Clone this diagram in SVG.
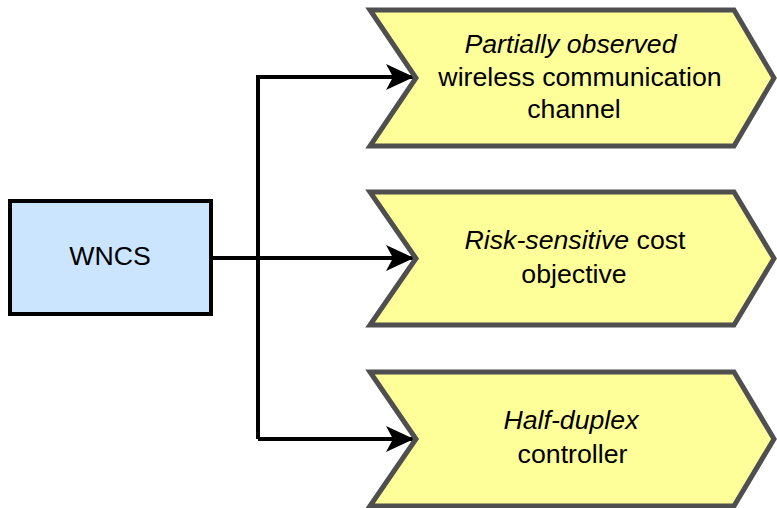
<svg xmlns="http://www.w3.org/2000/svg" width="777" height="508" viewBox="0 0 777 508">
<style>
  .step { fill: #ffff99; stroke: #4f4f4f; stroke-width: 5; stroke-linejoin: miter; }
  .box { fill: #cce5ff; stroke: #000; stroke-width: 4; }
  .t { font-family: "Liberation Sans", Arial, sans-serif; font-size: 26.7px; fill: #000; text-anchor: middle; }
  .i { font-style: italic; }
  .edge { fill: none; stroke: #000; stroke-width: 4; }
</style>
<defs>
  <marker id="arr" markerUnits="userSpaceOnUse" markerWidth="30" markerHeight="30" viewBox="0 0 30 30" refX="28" refY="15" orient="auto">
    <path d="M28,15 L0,2 L7,15 L0,28 Z" fill="#000"/>
  </marker>
</defs>
<rect width="777" height="508" fill="#fff"/>
<g id="connectors">
  <path class="edge" d="M212,258 H258"/>
  <path class="edge" d="M258,439 V77 H414" marker-end="url(#arr)"/>
  <path class="edge" d="M258,258 H414" marker-end="url(#arr)"/>
  <path class="edge" d="M258,439 H414" marker-end="url(#arr)"/>
</g>
<g id="wncs">
  <rect class="box" x="10" y="201" width="201" height="113"/>
  <text class="t" x="110" y="265">WNCS</text>
</g>
<g id="channel">
  <polygon class="step" points="370,10 734,10 774,78 734,146 370,146 416,78"/>
  <text class="t i" x="570.5" y="53">Partially observed</text>
  <text class="t" x="580" y="85.5">wireless communication</text>
  <text class="t" x="574" y="118">channel</text>
</g>
<g id="cost">
  <polygon class="step" points="370,192 734,192 774,258.5 734,325 370,325 416,258.5"/>
  <text class="t" x="575" y="249"><tspan class="i">Risk-sensitive</tspan> cost</text>
  <text class="t" x="574" y="283">objective</text>
</g>
<g id="controller">
  <polygon class="step" points="370,372 734,372 774,439 734,506 370,506 416,439"/>
  <text class="t i" x="571" y="429">Half-duplex</text>
  <text class="t" x="572.5" y="463">controller</text>
</g>
</svg>
